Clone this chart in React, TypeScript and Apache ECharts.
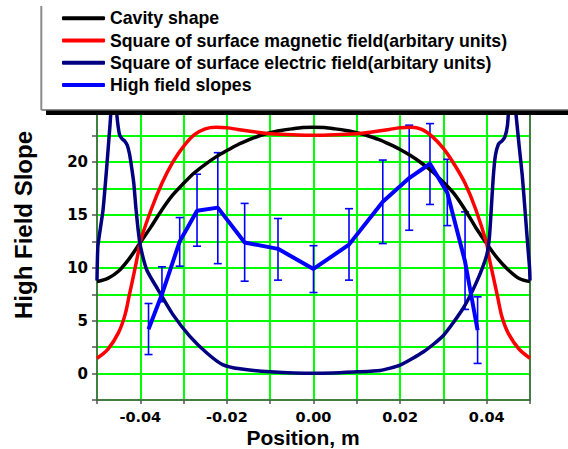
import React, { useEffect, useRef } from 'react';
import * as echarts from 'echarts';

// Cavity shape
const cavityX = [
  -0.05, -0.0475, -0.045, -0.0425, -0.04, -0.0375, -0.035, -0.0325, -0.03, -0.0275, -0.025,
  -0.0225, -0.02, -0.0175, -0.015, -0.0125, -0.01, -0.0075, -0.005, -0.0025, 0,
  0.0025, 0.005, 0.0075, 0.01, 0.0125, 0.015, 0.0175, 0.02, 0.0225, 0.025,
  0.0275, 0.03, 0.0325, 0.035, 0.0375, 0.04, 0.0425, 0.045, 0.0475, 0.05,
];
const cavityVals = [
  8.7, 9.0, 9.7, 10.9, 12.4, 13.9, 15.5, 16.9, 18.0, 19.0, 19.8,
  20.5, 21.1, 21.65, 22.1, 22.5, 22.8, 23.0, 23.15, 23.27, 23.3,
  23.27, 23.15, 23.0, 22.8, 22.5, 22.15, 21.7, 21.2, 20.6, 19.9,
  19.1, 18.1, 17.0, 15.5, 13.8, 12.3, 10.9, 9.8, 9.0, 8.7,
];

// Square of surface magnetic field
const magX = [
  -0.05, -0.0475, -0.045, -0.0435, -0.0425, -0.0415, -0.0405, -0.04, -0.0375, -0.035, -0.0325,
  -0.03, -0.0275, -0.025, -0.0225, -0.02, -0.0175, -0.015, -0.0125, -0.01, -0.005, 0,
  0.005, 0.01, 0.0125, 0.015, 0.0175, 0.02, 0.0225, 0.025, 0.0275, 0.03, 0.0325,
  0.035, 0.0375, 0.04, 0.0405, 0.0415, 0.0425, 0.0435, 0.045, 0.0475, 0.05,
];
const magVals = [
  1.45, 2.3, 3.9, 5.6, 7.5, 9.4, 11.4, 12.5, 15.5, 18.0, 20.0,
  21.5, 22.6, 23.15, 23.3, 23.25, 23.1, 22.95, 22.8, 22.7, 22.6, 22.55,
  22.6, 22.7, 22.8, 22.95, 23.1, 23.25, 23.3, 23.1, 22.4, 21.3, 19.8,
  18.0, 15.5, 12.3, 11.1, 9.2, 7.3, 5.4, 3.8, 2.3, 1.45,
];

// Square of surface electric field
const elecX = [
  -0.05, -0.0498, -0.0492, -0.0486, -0.0478, -0.047, -0.0463, -0.0458, -0.0454, -0.0448,
  -0.0442, -0.0436, -0.043, -0.0425, -0.042, -0.0415, -0.041, -0.0405, -0.04, -0.0385,
  -0.036, -0.0325, -0.0285, -0.0245, -0.021, -0.017, -0.01, 0,
  0.01, 0.0154, 0.02, 0.0254, 0.03, 0.0346, 0.0377, 0.04, 0.0406, 0.041,
  0.0415, 0.042, 0.0427, 0.0435, 0.0442, 0.0448, 0.0455, 0.0462, 0.0468, 0.0475,
  0.0482, 0.0489, 0.0495, 0.0499, 0.05,
];
const elecVals = [
  8.8, 12.0, 13.8, 15.5, 19.3, 23.5, 26.8, 26.8, 24.4, 22.6,
  22.2, 22.0, 21.6, 20.8, 19.5, 18.0, 15.6, 13.6, 12.1, 9.8,
  8.0, 5.6, 3.5, 1.9, 0.85, 0.45, 0.17, 0.02,
  0.17, 0.3, 0.8, 2.06, 3.6, 6.2, 8.7, 11.2, 12.8, 15.2,
  18.5, 20.6, 21.7, 22.0, 22.4, 23.5, 26.8, 26.8, 24.4, 21.5,
  18.8, 15.2, 12.0, 10.0, 8.8,
];

// High field slopes with error bars
const slopeX = [
  -0.0381, -0.035, -0.0309, -0.0269, -0.0221, -0.0159, -0.0082, 0,
  0.0082, 0.016, 0.0221, 0.0269, 0.0309, 0.035, 0.0379,
];
const slopeVals = [4.2, 7.5, 12.5, 15.4, 15.7, 12.4, 11.8, 9.9, 12.2, 16.25, 18.5, 19.85, 17.1, 10.6, 4.1];
const slopeLow = [1.8, 6.8, 10.16, 12.05, 10.4, 8.74, 8.84, 7.67, 8.84, 12.3, 13.56, 16.0, 14.0, 6.07, 0.96];
const slopeHigh = [6.63, 10.1, 14.76, 18.86, 20.9, 16.1, 14.67, 12.1, 15.6, 20.2, 23.5, 23.65, 20.27, 15.3, 7.26];

const seriesNames = [
  'Cavity shape',
  'Square of surface magnetic field(arbitary units)',
  'Square of surface electric field(arbitary units)',
  'High field slopes',
];

const xTickLabels = ['-0.04', '-0.02', '0.00', '0.02', '0.04'];
const yTickLabels = ['0', '5', '10', '15', '20'];

const zip = (xs: number[], ys: number[]) => xs.map((x, i) => [x, ys[i]]);

export default function App() {
  const ref = useRef<HTMLDivElement>(null);
  useEffect(() => {
    const chart = echarts.init(ref.current!, null, { renderer: 'svg' });
    const axisColor = '#555';
    const labelFont = { fontFamily: 'DejaVu Sans', fontWeight: 'bold' as const, fontSize: 15, color: '#000' };
    chart.setOption({
      animation: false,
      backgroundColor: '#fff',
      grid: { left: 97, right: 38, top: 112.5, bottom: 49, containLabel: false },
      legend: {
        data: seriesNames,
        orient: 'vertical',
        left: 62,
        top: 9.3,
        padding: 0,
        itemWidth: 43,
        itemHeight: 4,
        itemGap: 4.2,
        icon: 'roundRect',
        textStyle: {
          fontFamily: 'Liberation Sans',
          fontWeight: 'bold',
          fontSize: 17.7,
          lineHeight: 18,
          color: '#000',
        },
      },
      xAxis: {
        type: 'value',
        min: -0.05,
        max: 0.05,
        interval: 0.01,
        axisLine: { show: true, onZero: false, lineStyle: { color: axisColor, width: 1.5 } },
        axisTick: { show: true, length: 4, lineStyle: { color: axisColor, width: 1.5 } },
        axisLabel: {
          ...labelFont,
          fontSize: 14.5,
          lineHeight: 13,
          margin: 10,
          formatter: (v: number) => {
            const k = Math.round(v * 100);
            if (Math.abs(k) > 4 || k % 2 !== 0) return '';
            return xTickLabels[(k + 4) / 2];
          },
        },
        splitLine: { show: true, lineStyle: { color: '#00ff00', width: 2 } },
      },
      yAxis: [
        {
          type: 'value',
          min: -2.5,
          max: 24.7,
          interval: 2.5,
          axisLine: { show: true, onZero: false, lineStyle: { color: axisColor, width: 1.5 } },
          axisTick: { show: true, length: 5, lineStyle: { color: axisColor, width: 1.5 } },
          axisLabel: {
            ...labelFont,
            margin: 9,
            formatter: (v: number) => {
              const k = Math.round(v * 10);
              if (Math.abs(v * 10 - k) > 1e-6 || k % 50 !== 0 || k < 0 || k > 200) return '';
              return yTickLabels[k / 50];
            },
          },
          splitLine: { show: true, lineStyle: { color: '#00ff00', width: 2 } },
        },
        {
          type: 'value',
          position: 'right',
          min: -2.5,
          max: 24.7,
          interval: 2.5,
          axisLine: { show: true, onZero: false, lineStyle: { color: axisColor, width: 1.5 } },
          axisTick: { show: false },
          axisLabel: { show: false },
          splitLine: { show: false },
        },
      ],
      series: [
        {
          name: seriesNames[0],
          type: 'line',
          data: zip(cavityX, cavityVals),
          symbol: 'none',
          smooth: 0.3,
          color: '#000000',
          lineStyle: { width: 3.5, color: '#000000' },
          clip: true,
        },
        {
          name: seriesNames[1],
          type: 'line',
          data: zip(magX, magVals),
          symbol: 'none',
          smooth: 0.3,
          color: '#ff0000',
          lineStyle: { width: 3.5, color: '#ff0000' },
          clip: true,
        },
        {
          name: seriesNames[2],
          type: 'line',
          data: zip(elecX, elecVals),
          symbol: 'none',
          smooth: 0.2,
          color: '#000080',
          lineStyle: { width: 3.5, color: '#000080' },
          clip: true,
        },
        {
          name: seriesNames[3],
          type: 'line',
          data: zip(slopeX, slopeVals),
          symbol: 'none',
          color: '#0000ff',
          lineStyle: { width: 4, color: '#0000ff' },
          clip: true,
        },
        {
          name: 'errors',
          type: 'custom',
          data: slopeX.map((x, i) => [x, slopeLow[i], slopeHigh[i]]),
          encode: { x: 0, y: [1, 2] },
          renderItem: (params: any, api: any) => {
            const x = api.value(0);
            const p1 = api.coord([x, api.value(1)]);
            const p2 = api.coord([x, api.value(2)]);
            const w = 4;
            const style = { stroke: '#0000ff', lineWidth: 1.6 };
            return {
              type: 'group',
              children: [
                { type: 'line', shape: { x1: p1[0], y1: p1[1], x2: p2[0], y2: p2[1] }, style },
                { type: 'line', shape: { x1: p1[0] - w, y1: p1[1], x2: p1[0] + w, y2: p1[1] }, style },
                { type: 'line', shape: { x1: p2[0] - w, y1: p2[1], x2: p2[0] + w, y2: p2[1] }, style },
              ],
            };
          },
        },
      ],
      graphic: [
        { type: 'line', shape: { x1: 41.3, y1: 6, x2: 41.3, y2: 110 }, style: { stroke: '#8c8c8c', lineWidth: 2 }, z: 50 },
        { type: 'line', shape: { x1: 41.3, y1: 110, x2: 568, y2: 110 }, style: { stroke: '#8c8c8c', lineWidth: 2 }, z: 50 },
        { type: 'line', shape: { x1: 46, y1: 112.8, x2: 568, y2: 112.8 }, style: { stroke: '#000', lineWidth: 4.5 }, z: 100 },
        {
          type: 'text',
          x: 303,
          y: 437,
          style: {
            text: 'Position, m',
            fontFamily: 'Liberation Sans',
            fontWeight: 'bold',
            fontSize: 21,
            lineHeight: 18,
            fill: '#000',
            textAlign: 'center',
            textVerticalAlign: 'middle',
          },
          z: 100,
        },
        {
          type: 'text',
          x: 23,
          y: 225,
          rotation: Math.PI / 2,
          style: {
            text: 'High Field Slope',
            fontFamily: 'Liberation Sans',
            fontWeight: 'bold',
            fontSize: 24,
            fill: '#000',
            textAlign: 'center',
            textVerticalAlign: 'middle',
          },
          z: 100,
        },
      ],
    });
    return () => chart.dispose();
  }, []);
  return (
    <div
      ref={ref}
      style={{ position: 'fixed', left: 0, top: 0, width: 568, height: 449, background: '#fff' }}
    />
  );
}
